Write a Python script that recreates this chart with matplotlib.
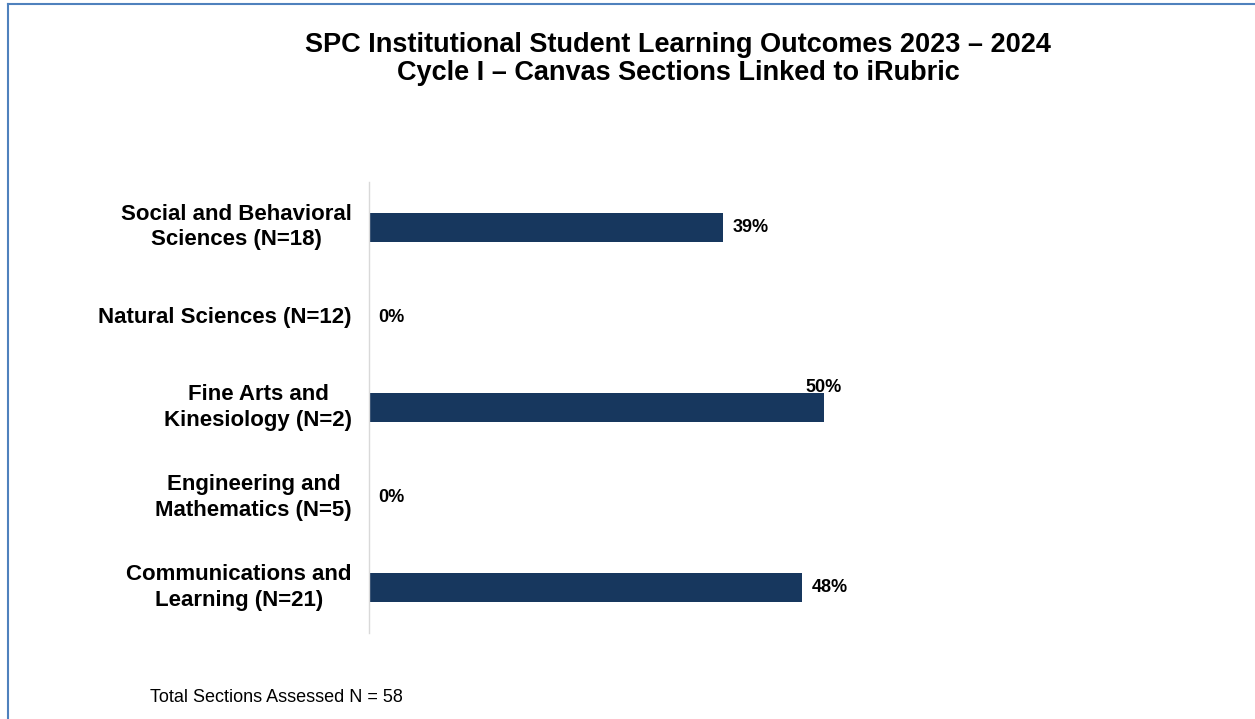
import matplotlib.pyplot as plt
from matplotlib.lines import Line2D
from matplotlib.transforms import blended_transform_factory

plt.rcParams['font.family'] = ['Liberation Sans', 'DejaVu Sans']

categories = ["Social and Behavioral\nSciences (N=18)",
              "Natural Sciences (N=12)",
              "Fine Arts and\nKinesiology (N=2)",
              "Engineering and\nMathematics (N=5)",
              "Communications and\nLearning (N=21)"]
values = [38.9, 0.0, 50.0, 0.0, 47.6]
value_labels = ["39%", "0%", "50%", "0%", "48%"]

title = "SPC Institutional Student Learning Outcomes 2023 \u2013 2024\nCycle I \u2013 Canvas Sections Linked to iRubric"
footnote = "Total Sections Assessed N = 58"

W, H = 1255, 719
fig = plt.figure(figsize=(W / 100, H / 100), dpi=100)

# axes: left spine at x=369px, from y=182 to y=633
ax = fig.add_axes([369 / W, 1 - 633 / H, (1100 - 369) / W, (633 - 182) / H])
ypos = list(range(len(categories)))
bar_h = 0.32
ax.barh(ypos, values, height=bar_h, color="#17375e")
ax.set_ylim(len(categories) - 0.5, -0.5)
ax.set_xlim(0, (1100 - 369) / 9.1)

for sp in ["top", "right", "bottom"]:
    ax.spines[sp].set_visible(False)
ax.spines["left"].set_color("#d9d9d9")
ax.spines["left"].set_linewidth(1.0)
ax.set_xticks([])
ax.set_yticks([])

# category labels: block right-aligned, lines centred
trans = blended_transform_factory(fig.transFigure, ax.transData)
for i, c in enumerate(categories):
    ax.text(352 / W, i, c, transform=trans, ha="right", va="center",
            multialignment="center", fontsize=16, fontweight="bold",
            linespacing=1.3)

# value labels
for i, (v, s) in enumerate(zip(values, value_labels)):
    if s == "50%":
        ax.annotate(s, (v, i - bar_h / 2), xytext=(0, 1), textcoords="offset points",
                    ha="center", va="baseline", fontsize=13, fontweight="bold")
    else:
        ax.annotate(s, (v, i), xytext=(7, 0), textcoords="offset points",
                    ha="left", va="center", fontsize=13, fontweight="bold")

fig.text(678 / W, 1 - 59 / H, title, ha="center", va="center", fontsize=19.5,
         fontweight="bold", linespacing=1.1)
fig.text(150 / W, 1 - 697 / H, footnote, ha="left", va="center", fontsize=13)

# frame lines (top and left)
fig.add_artist(Line2D([8 / W, 1], [1 - 4 / H, 1 - 4 / H], color="#4f81bd", lw=1.5, transform=fig.transFigure))
fig.add_artist(Line2D([8 / W, 8 / W], [0, 1 - 4 / H], color="#4f81bd", lw=1.5, transform=fig.transFigure))

fig.savefig("out.png", dpi=100)
